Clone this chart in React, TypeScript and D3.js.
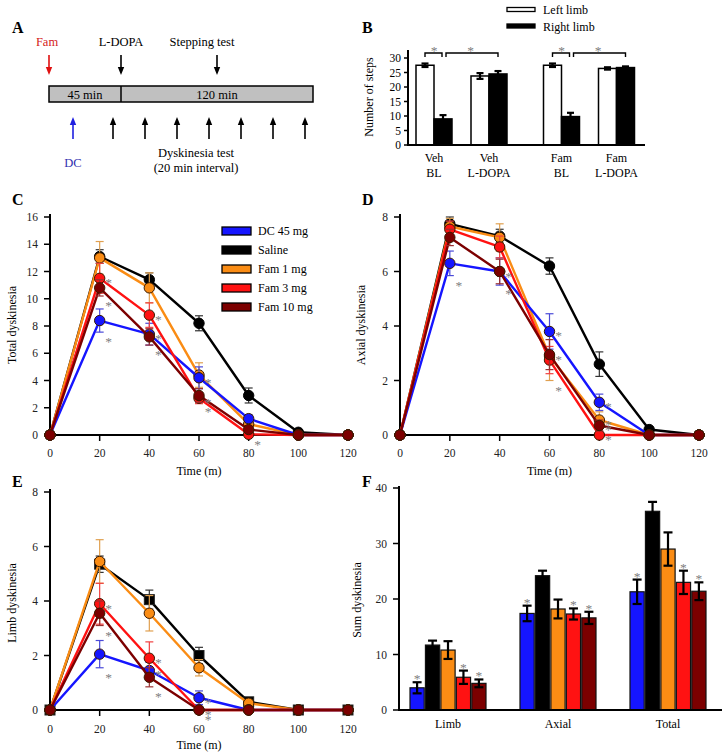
import React from 'react';
import * as d3 from 'd3';

const FONT = '"Liberation Serif", "Times New Roman", serif';

// ---------- Panel A ----------
const timelineDomain = [-45, 120];
const testTimes = [-5, 15, 35, 55, 75, 95, 115];
const famTime = -45;
const dcTime = -30;
const ldopaTime = 0;
const steppingTime = 60;

// ---------- Panel B ----------
const bDrugs = ['Veh', 'Fam'];
const bPhases = ['BL', 'L-DOPA'];
const bLeft = [27.5, 23.8, 27.5, 26.4];
const bLeftErr = [0.6, 1.0, 0.6, 0.4];
const bRight = [9.0, 24.5, 9.8, 26.7];
const bRightErr = [1.3, 1.0, 1.3, 0.4];
const bTicks = [0, 5, 10, 15, 20, 25, 30];

// ---------- Panels C, D, E ----------
const times = [0, 20, 40, 60, 80, 100, 120];
const seriesNames = ['DC 45 mg', 'Saline', 'Fam 1 mg', 'Fam 3 mg', 'Fam 10 mg'];
const seriesColors = ['#1515ff', '#000000', '#fa8c14', '#ff1212', '#7c0000'];
const errColors = ['#4a4ad8', '#333333', '#e0a050', '#f04040', '#9a3030'];
const drawOrder = [1, 2, 0, 3, 4];

// significance: 0 = none, 1 = star beside the point, -1 = star below the error bar
const totalValues = [
  [0, 8.4, 7.4, 4.2, 1.2, 0, 0],
  [0, 13.1, 11.4, 8.2, 2.9, 0.2, 0],
  [0, 13.0, 10.8, 4.4, 0.8, 0, 0],
  [0, 11.5, 8.8, 2.7, 0.05, 0, 0],
  [0, 10.8, 7.2, 2.9, 0.4, 0, 0],
];
const totalErrors = [
  [0, 0.85, 0.8, 0.8, 0.3, 0, 0],
  [0, 0.5, 0.5, 0.55, 0.55, 0.1, 0],
  [0, 1.2, 1.1, 0.9, 0.3, 0, 0],
  [0, 1.1, 0.9, 0.4, 0.05, 0, 0],
  [0, 0.6, 0.6, 0.5, 0.2, 0, 0],
];
const totalSig = [
  [0, -1, 1, 1, 0, 0, 0],
  [0, 0, 0, 0, 0, 0, 0],
  [0, 0, 0, 0, 0, 0, 0],
  [0, 1, 1, 1, -1, 0, 0],
  [0, -1, -1, -1, 0, 0, 0],
];

const axialValues = [
  [0, 6.3, 6.0, 3.8, 1.2, 0, 0],
  [0, 7.75, 7.3, 6.2, 2.6, 0.2, 0],
  [0, 7.65, 7.25, 2.9, 0.55, 0, 0],
  [0, 7.55, 6.9, 2.75, 0, 0, 0],
  [0, 7.25, 6.0, 2.95, 0.35, 0, 0],
];
const axialErrors = [
  [0, 0.45, 0.5, 0.65, 0.3, 0, 0],
  [0, 0.25, 0.25, 0.3, 0.45, 0.1, 0],
  [0, 0.3, 0.5, 0.9, 0.3, 0, 0],
  [0, 0.3, 0.4, 0.5, 0, 0, 0],
  [0, 0.3, 0.45, 0.55, 0.2, 0, 0],
];
const axialSig = [
  [0, -1, 1, 1, 1, 0, 0],
  [0, 0, 0, 0, 0, 0, 0],
  [0, 0, 0, -1, 1, 0, 0],
  [0, 0, 0, 0, 1, 0, 0],
  [0, 0, -1, 1, 1, 0, 0],
];

const limbValues = [
  [0, 2.05, 1.45, 0.45, 0, 0, 0],
  [0, 5.35, 4.05, 2.0, 0.3, 0, 0],
  [0, 5.45, 3.55, 1.55, 0.25, 0, 0],
  [0, 3.9, 1.9, 0, 0, 0, 0],
  [0, 3.55, 1.2, 0, 0, 0, 0],
];
const limbErrors = [
  [0, 0.5, 0.3, 0.25, 0, 0, 0],
  [0, 0.3, 0.35, 0.3, 0.1, 0, 0],
  [0, 0.8, 0.65, 0.3, 0.1, 0, 0],
  [0, 0.75, 0.6, 0, 0, 0, 0],
  [0, 0.45, 0.35, 0, 0, 0, 0],
];
const limbSig = [
  [0, -1, 1, 1, 0, 0, 0],
  [0, 0, 0, 0, 0, 0, 0],
  [0, 0, 0, 0, 0, 0, 0],
  [0, 1, 1, 1, 0, 0, 0],
  [0, -1, -1, -1, 0, 0, 0],
];

// ---------- Panel F ----------
const fCategories = ['Limb', 'Axial', 'Total'];
const fValues = [
  [4.0, 17.4, 21.3],
  [11.7, 24.2, 35.8],
  [10.8, 18.2, 29.0],
  [5.9, 17.3, 23.0],
  [4.8, 16.6, 21.4],
];
const fErrors = [
  [1.0, 1.4, 2.2],
  [0.8, 0.9, 1.7],
  [1.6, 1.7, 3.0],
  [1.2, 1.0, 2.1],
  [0.7, 1.1, 1.6],
];
const fSig = [
  [1, 1, 1],
  [0, 0, 0],
  [0, 0, 0],
  [1, 1, 1],
  [1, 1, 1],
];
const fTicks = [0, 10, 20, 30, 40];

function Arrow({ x, y1, y2, color }: { x: number; y1: number; y2: number; color: string }) {
  const dir = y2 > y1 ? 1 : -1;
  const hl = 8;
  const hw = 3.2;
  return (
    <g>
      <line x1={x} y1={y1} x2={x} y2={y2 - dir * hl + dir} stroke={color} strokeWidth={1.6} />
      <path d={`M${x - hw},${y2 - dir * hl} L${x + hw},${y2 - dir * hl} L${x},${y2} Z`} fill={color} />
    </g>
  );
}

function PanelA() {
  const t = d3.scaleLinear().domain(timelineDomain).range([49, 313]);
  return (
    <g fontFamily={FONT} fontSize={12.5}>
      <text x={12} y={33} fontWeight="bold" fontSize={16}>A</text>
      <text x={t(famTime) - 2} y={46} textAnchor="middle" fill="#d42020">Fam</text>
      <Arrow x={t(famTime)} y1={55} y2={75} color="#e01010" />
      <text x={t(ldopaTime)} y={46} textAnchor="middle">L-DOPA</text>
      <Arrow x={t(ldopaTime)} y1={55} y2={75} color="#000" />
      <text x={t(steppingTime) - 15} y={46} textAnchor="middle">Stepping test</text>
      <Arrow x={t(steppingTime)} y1={55} y2={75} color="#000" />
      <rect x={t(-45)} y={86} width={t(120) - t(-45)} height={16} fill="#c0c0c0" stroke="#000" strokeWidth={1.5} />
      <line x1={t(0)} x2={t(0)} y1={86} y2={102} stroke="#000" strokeWidth={1.5} />
      <text x={(t(-45) + t(0)) / 2} y={99} textAnchor="middle">45 min</text>
      <text x={(t(0) + t(120)) / 2} y={99} textAnchor="middle">120 min</text>
      <Arrow x={t(dcTime)} y1={139} y2={117} color="#2020e0" />
      {testTimes.map((tt, i) => (
        <Arrow key={i} x={t(tt)} y1={139} y2={117} color="#000" />
      ))}
      <text x={t(dcTime)} y={167} textAnchor="middle" fill="#3030b0">DC</text>
      <text x={196} y={157} textAnchor="middle">Dyskinesia test</text>
      <text x={196} y={172} textAnchor="middle">(20 min interval)</text>
    </g>
  );
}

function ErrBar({ x, yTop, yBot, color, w, cap }: any) {
  return (
    <g stroke={color} strokeWidth={w}>
      <line x1={x} x2={x} y1={yTop} y2={yBot} />
      <line x1={x - cap} x2={x + cap} y1={yTop} y2={yTop} />
      <line x1={x - cap} x2={x + cap} y1={yBot} y2={yBot} />
    </g>
  );
}

function Star({ x, y }: { x: number; y: number }) {
  return (
    <text x={x} y={y} textAnchor="middle" fontSize={13.5} fill="#808080" fontFamily={FONT}>*</text>
  );
}

function PanelB() {
  const y = d3.scaleLinear().domain([0, 30]).range([145, 58]);
  const outer = d3.scalePoint<string>().domain(bDrugs).range([461.5, 589]);
  const inner = d3.scalePoint<string>().domain(bPhases).range([-27.5, 27.5]);
  const bw = 18;
  const groups = bDrugs.flatMap((d) => bPhases.map((p) => ({ d, p, cx: (outer(d) as number) + (inner(p) as number) })));
  return (
    <g fontFamily={FONT} fontSize={12}>
      <text x={362} y={33} fontWeight="bold" fontSize={16}>B</text>
      <rect x={507} y={7.5} width={28} height={4} fill="#fff" stroke="#000" strokeWidth={1.3} />
      <text x={543} y={14}>Left limb</text>
      <rect x={507} y={24} width={28} height={4} fill="#000" stroke="#000" strokeWidth={1.3} />
      <text x={543} y={31}>Right limb</text>
      {groups.map((g, i) => {
        const lx = g.cx - bw;
        const rx = g.cx;
        return (
          <g key={i}>
            <rect x={lx} y={y(bLeft[i])} width={bw} height={y(0) - y(bLeft[i])} fill="#fff" stroke="#000" strokeWidth={1.5} />
            <rect x={rx} y={y(bRight[i])} width={bw} height={y(0) - y(bRight[i])} fill="#000" stroke="#000" strokeWidth={1.5} />
            <ErrBar x={lx + bw / 2} yTop={y(bLeft[i] + bLeftErr[i])} yBot={y(bLeft[i] - bLeftErr[i])} color="#000" w={2.2} cap={3.5} />
            <ErrBar x={rx + bw / 2} yTop={y(bRight[i] + bRightErr[i])} yBot={y(bRight[i] - bRightErr[i])} color="#000" w={2.2} cap={3.5} />
            <text x={g.cx} y={162} textAnchor="middle">{g.d}</text>
            <text x={g.cx} y={177} textAnchor="middle">{g.p}</text>
          </g>
        );
      })}
      {bDrugs.map((d, k) => {
        const bl = (outer(d) as number) + (inner('BL') as number);
        const ld = (outer(d) as number) + (inner('L-DOPA') as number);
        const a1 = bl - bw / 2, a2 = bl + bw / 2, b2 = ld + bw / 2;
        const by = 53;
        return (
          <g key={k}>
            <g stroke="#000" strokeWidth={1.4} fill="none">
              <path d={`M${a1},${by + 4} V${by} H${a2 - 1} V${by + 4}`} />
              <path d={`M${a2 + 3},${by + 4} V${by} H${b2} V${by + 4}`} />
            </g>
            <Star x={(a1 + a2) / 2} y={by + 1.5} />
            <Star x={(a2 + b2) / 2} y={by + 1.5} />
          </g>
        );
      })}
      <line x1={408} x2={408} y1={50} y2={146} stroke="#000" strokeWidth={2} />
      <line x1={407} x2={645} y1={145} y2={145} stroke="#000" strokeWidth={2} />
      {bTicks.map((v) => (
        <g key={v}>
          <line x1={404} x2={408} y1={y(v)} y2={y(v)} stroke="#000" strokeWidth={1.5} />
          <text x={401} y={y(v) + 4} textAnchor="end" fontSize={11.5}>{v}</text>
        </g>
      ))}
      <text transform={`translate(373,97) rotate(-90)`} textAnchor="middle" fontSize={12}>Number of steps</text>
    </g>
  );
}

function LinePanel(props: any) {
  const { x0, x1, yB, yT, yMax, yTicks, values, errors, sig, ylabel, ylabelX, ylabelY, letter, letterX, letterY, squareSaline, legend, tickLabelY, titleY } = props;
  const x = d3.scaleLinear().domain([0, 120]).range([x0, x1]);
  const y = d3.scaleLinear().domain([0, yMax]).range([yB, yT]);
  const line = d3.line<number>().x((_, i) => x(times[i])).y((d) => y(d));
  return (
    <g fontFamily={FONT}>
      <text x={letterX} y={letterY} fontWeight="bold" fontSize={16}>{letter}</text>
      <line x1={x0} x2={x0} y1={yB + 1} y2={yT - 3} stroke="#000" strokeWidth={2} />
      <line x1={x0 - 1} x2={x1 + 3} y1={yB} y2={yB} stroke="#000" strokeWidth={2} />
      {yTicks.map((v: number) => (
        <g key={v}>
          <line x1={x0 - 6} x2={x0} y1={y(v)} y2={y(v)} stroke="#000" strokeWidth={1.5} />
          <text x={x0 - 12} y={y(v) + 4} textAnchor="end" fontSize={11.5} fill="#222">{v}</text>
        </g>
      ))}
      {times.map((tv) => (
        <g key={tv}>
          <line x1={x(tv)} x2={x(tv)} y1={yB} y2={yB + 6} stroke="#000" strokeWidth={1.5} />
          <text x={x(tv)} y={tickLabelY} textAnchor="middle" fontSize={11.5} fill="#222">{tv}</text>
        </g>
      ))}
      <text x={(x0 + x1) / 2} y={titleY} textAnchor="middle" fontSize={12}>Time (m)</text>
      <text transform={`translate(${ylabelX},${ylabelY}) rotate(-90)`} textAnchor="middle" fontSize={12}>{ylabel}</text>
      {drawOrder.map((s) => (
        <g key={s}>
          <path d={line(values[s]) as string} fill="none" stroke={seriesColors[s]} strokeWidth={2.4} strokeLinejoin="round" />
          {values[s].map((v: number, i: number) =>
            errors[s][i] > 0 ? (
              <ErrBar key={i} x={x(times[i])} yTop={y(v + errors[s][i])} yBot={y(Math.max(0, v - errors[s][i]))} color={errColors[s]} w={1.2} cap={4} />
            ) : null
          )}
          {values[s].map((v: number, i: number) =>
            squareSaline && s === 1 ? (
              <rect key={'m' + i} x={x(times[i]) - 5} y={y(v) - 5} width={10} height={10} fill={seriesColors[s]} stroke="#222" strokeWidth={1} />
            ) : (
              <circle key={'m' + i} cx={x(times[i])} cy={y(v)} r={5.2} fill={seriesColors[s]} stroke={s === 1 ? '#000' : '#3a1a00'} strokeWidth={1} />
            )
          )}
        </g>
      ))}
      {drawOrder.map((s) =>
        values[s].map((v: number, i: number) => {
          const code = sig[s][i];
          if (!code) return null;
          const px = x(times[i]);
          const sy = code > 0 ? y(v) + 9 : y(Math.max(0, v - errors[s][i])) + 14;
          return <Star key={`a${s}-${i}`} x={px + 9} y={sy} />;
        })
      )}
      {legend &&
        seriesNames.map((n, i) => (
          <g key={n}>
            <rect x={222} y={227 + i * 19} width={29} height={8} fill={seriesColors[i]} stroke="#000" strokeWidth={1.3} />
            <text x={258} y={235 + i * 19} fontSize={12}>{n}</text>
          </g>
        ))}
    </g>
  );
}

function PanelF() {
  const y = d3.scaleLinear().domain([0, 40]).range([710, 488]);
  const outer = d3.scaleBand<string>().domain(fCategories).range([393, 723]);
  const inner = d3.scaleBand<number>().domain(d3.range(5)).range([-38, 38]).paddingInner(0.08);
  return (
    <g fontFamily={FONT}>
      <text x={362} y={487} fontWeight="bold" fontSize={16}>F</text>
      {fCategories.map((c, ci) => {
        const cx = (outer(c) as number) + outer.bandwidth() / 2;
        return (
          <g key={c}>
            {d3.range(5).map((s) => {
              const bx = cx + (inner(s) as number);
              const v = fValues[s][ci];
              const e = fErrors[s][ci];
              const mx = bx + inner.bandwidth() / 2;
              return (
                <g key={s}>
                  <rect x={bx} y={y(v)} width={inner.bandwidth()} height={y(0) - y(v)} fill={seriesColors[s]} stroke="#111" strokeWidth={1.2} />
                  <ErrBar x={mx} yTop={y(v + e)} yBot={y(v - e)} color="#000" w={2.2} cap={4.5} />
                  {fSig[s][ci] ? <Star x={mx} y={y(v + e) + 1} /> : null}
                </g>
              );
            })}
            <text x={cx} y={728} textAnchor="middle" fontSize={12}>{c}</text>
          </g>
        );
      })}
      <line x1={399} x2={399} y1={711} y2={486} stroke="#000" strokeWidth={2} />
      <line x1={398} x2={722} y1={710} y2={710} stroke="#000" strokeWidth={2} />
      {fTicks.map((v) => (
        <g key={v}>
          <line x1={393} x2={399} y1={y(v)} y2={y(v)} stroke="#000" strokeWidth={1.5} />
          <text x={387} y={y(v) + 4} textAnchor="end" fontSize={11.5} fill="#222">{v}</text>
        </g>
      ))}
      <text transform={`translate(361,600) rotate(-90)`} textAnchor="middle" fontSize={12}>Sum dyskinesia</text>
    </g>
  );
}

export default function App() {
  return (
    <svg width={726} height={755} style={{ position: 'absolute', left: 0, top: 0, background: '#fff' }}>
      <rect width={726} height={755} fill="#fff" />
      <PanelA />
      <PanelB />
      <LinePanel
        x0={50} x1={348} yB={435} yT={217} yMax={16} yTicks={[0, 2, 4, 6, 8, 10, 12, 14, 16]}
        values={totalValues} errors={totalErrors} sig={totalSig}
        ylabel="Total dyskinesia" ylabelX={16} ylabelY={325}
        letter="C" letterX={12} letterY={205} legend tickLabelY={457} titleY={475}
      />
      <LinePanel
        x0={400} x1={699} yB={435} yT={217} yMax={8} yTicks={[0, 2, 4, 6, 8]}
        values={axialValues} errors={axialErrors} sig={axialSig}
        ylabel="Axial dyskinesia" ylabelX={365} ylabelY={325}
        letter="D" letterX={362} letterY={205} tickLabelY={457} titleY={475}
      />
      <LinePanel
        x0={50} x1={348} yB={710} yT={492} yMax={8} yTicks={[0, 2, 4, 6, 8]}
        values={limbValues} errors={limbErrors} sig={limbSig}
        ylabel="Limb dyskinesia" ylabelX={16} ylabelY={603}
        letter="E" letterX={12} letterY={487} squareSaline tickLabelY={733} titleY={749}
      />
      <PanelF />
    </svg>
  );
}
